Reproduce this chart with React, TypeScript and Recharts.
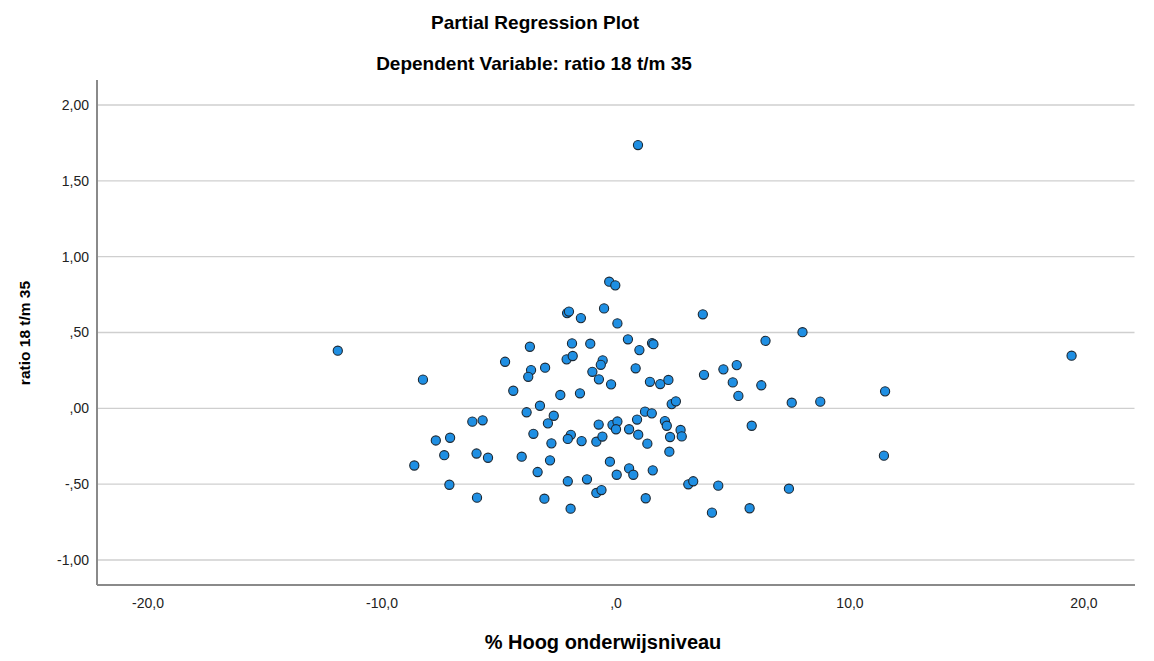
import React from 'react';
import { ScatterChart, Scatter, XAxis, YAxis, ReferenceLine } from 'recharts';

// x: % Hoog onderwijsniveau (partial residuals), y: ratio 18 t/m 35 (partial residuals)
const hoogOnderwijs = [
  0.94, -0.29, -0.03, -2.09, -2.01, -1.50, -0.51, 0.06, 0.51, -3.68,
  -1.88, -1.10, -4.74, -2.11, -1.85, -0.57, -0.65, -3.63, -3.75, -3.03,
  -1.01, -0.73, -0.21, -8.25, -4.39, -2.38, -1.54, -3.25, -3.82, -2.66,
  -2.91, -6.14, -5.70, -0.74, -0.15, 0.06, 0.00, 0.56, -3.53, -1.93,
  -2.06, -7.70, -7.09, -1.47, -0.84, -0.58, -2.76, -7.34, -5.96, -5.47,
  -8.62, -4.03, -2.82, -0.26, 0.56, 0.03, -3.35, -7.12, -2.06, -1.24,
  -0.84, -0.62, -5.94, -3.06, -1.94, 3.71, 1.00, 1.54, 1.60, 0.84,
  1.45, 1.89, 2.24, 3.76, 4.59, 5.16, 4.99, 6.21, 5.23, 6.39,
  7.97, 2.38, 2.56, 7.51, 8.73, 1.24, 1.53, 2.09, 2.17, 5.80,
  2.76, 2.81, 0.90, 0.95, 2.31, 1.34, 2.28, 0.74, 1.57, 3.09,
  3.30, 4.37, 7.39, 1.27, 4.10, 5.71, 19.47, 11.50, 11.45, -11.89,
];

const ratio1835 = [
  1.736, 0.835, 0.811, 0.628, 0.638, 0.595, 0.659, 0.560, 0.455, 0.406,
  0.428, 0.426, 0.307, 0.323, 0.345, 0.316, 0.287, 0.252, 0.208, 0.268,
  0.241, 0.191, 0.158, 0.189, 0.116, 0.088, 0.099, 0.017, -0.026, -0.049,
  -0.099, -0.088, -0.079, -0.107, -0.109, -0.087, -0.138, -0.138, -0.168, -0.175,
  -0.202, -0.212, -0.194, -0.216, -0.220, -0.186, -0.231, -0.309, -0.298, -0.326,
  -0.377, -0.319, -0.343, -0.352, -0.396, -0.438, -0.420, -0.504, -0.481, -0.468,
  -0.558, -0.539, -0.589, -0.596, -0.662, 0.620, 0.384, 0.430, 0.423, 0.264,
  0.175, 0.160, 0.187, 0.221, 0.257, 0.285, 0.171, 0.152, 0.082, 0.445,
  0.502, 0.028, 0.046, 0.037, 0.044, -0.022, -0.033, -0.084, -0.115, -0.115,
  -0.143, -0.185, -0.074, -0.174, -0.189, -0.233, -0.286, -0.438, -0.409, -0.501,
  -0.481, -0.510, -0.530, -0.593, -0.688, -0.659, 0.347, 0.112, -0.312, 0.380,
];

const xTicks = [-20, -10, 0, 10, 20];
const xTickLabels = ['-20,0', '-10,0', ',0', '10,0', '20,0'];
const yTicks = [-1, -0.5, 0, 0.5, 1, 1.5, 2];
const yTickLabels = ['-1,00', '-,50', ',00', ',50', '1,00', '1,50', '2,00'];

const titleText = 'Partial Regression Plot';
const subtitleText = 'Dependent Variable: ratio 18 t/m 35';
const xLabelText = '% Hoog onderwijsniveau';
const yLabelText = 'ratio 18 t/m 35';

const points = hoogOnderwijs.map((x, i) => ({ x, y: ratio1835[i] }));

const FONT = '"Liberation Sans", Arial, sans-serif';

const Dot = (props: any) => {
  const { cx, cy } = props;
  if (cx == null || cy == null) return null;
  return <circle cx={cx} cy={cy} r={4.6} fill="#1f8fe3" stroke="#1c2833" strokeWidth={1.1} />;
};

export default function App() {
  return (
    <div style={{ position: 'absolute', left: 0, top: 0, width: 1154, height: 661, background: '#fff', fontFamily: FONT }}>
      <ScatterChart
        width={1154}
        height={661}
        margin={{ top: 80, right: 19, bottom: 46, left: 0 }}
        style={{ fontFamily: FONT, outline: 'none' }}
        accessibilityLayer={false}
      >
        <XAxis
          type="number"
          dataKey="x"
          domain={[-22.18, 22.18]}
          ticks={xTicks}
          tickFormatter={(v: number) => xTickLabels[xTicks.indexOf(v)] ?? String(v)}
          height={30}
          tickLine={false}
          tickSize={6}
          tickMargin={7}
          axisLine={{ stroke: '#8a8a8a', strokeWidth: 2 }}
          tick={{ fontSize: 14, fill: '#222', fontFamily: FONT }}
          allowDataOverflow={true}
        />
        <YAxis
          type="number"
          dataKey="y"
          domain={[-1.165, 2.165]}
          ticks={yTicks}
          tickFormatter={(v: number) => yTickLabels[yTicks.indexOf(v)] ?? String(v)}
          width={97}
          tickLine={false}
          tickSize={6}
          tickMargin={2}
          axisLine={{ stroke: '#8a8a8a', strokeWidth: 2 }}
          tick={{ fontSize: 14, fill: '#222', fontFamily: FONT }}
          allowDataOverflow={true}
        />
        {yTicks.map((v) => (
          <ReferenceLine key={v} y={v} stroke="#cfcfcf" strokeWidth={1.4} ifOverflow="extendDomain" />
        ))}
        <Scatter data={points} shape={Dot} isAnimationActive={false} />
      </ScatterChart>
      <svg
        width={1154}
        height={661}
        style={{ position: 'absolute', left: 0, top: 0, pointerEvents: 'none' }}
      >
        <rect x={99} y={77} width={1050} height={4} fill="#fff" />
        <rect x={1134.5} y={77} width={16} height={505} fill="#fff" />
        <text x={535} y={29} textAnchor="middle" fontFamily={FONT} fontWeight="bold" fontSize={19} fill="#000">
          {titleText}
        </text>
        <text x={534} y={70} textAnchor="middle" fontFamily={FONT} fontWeight="bold" fontSize={19} fill="#000">
          {subtitleText}
        </text>
        <text x={603} y={649} textAnchor="middle" fontFamily={FONT} fontWeight="bold" fontSize={20} fill="#000">
          {xLabelText}
        </text>
        <text
          x={30}
          y={333}
          textAnchor="middle"
          fontFamily={FONT}
          fontWeight="bold"
          fontSize={15.5}
          fill="#000"
          transform="rotate(-90 30 333)"
        >
          {yLabelText}
        </text>
      </svg>
    </div>
  );
}
